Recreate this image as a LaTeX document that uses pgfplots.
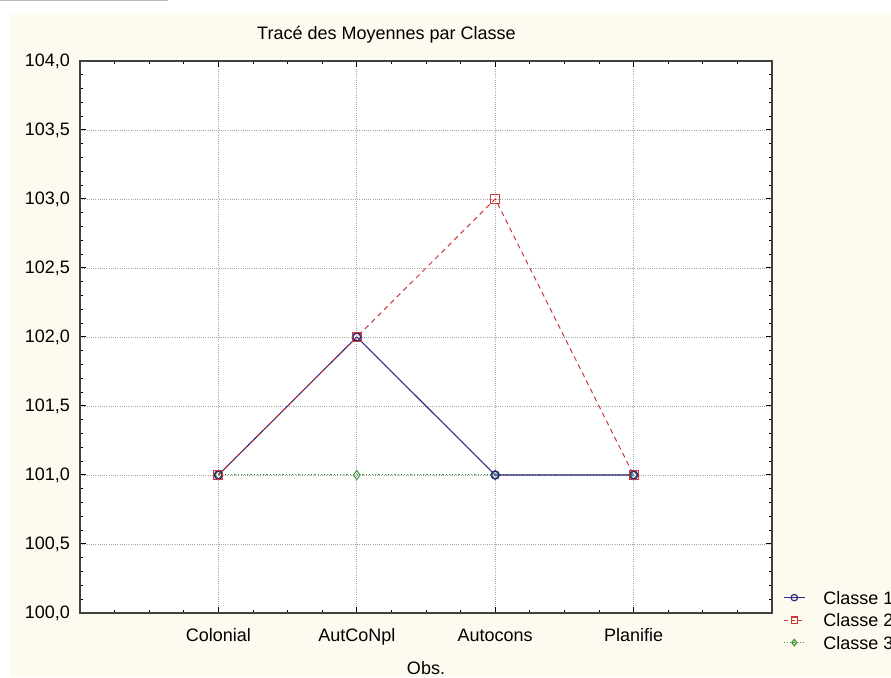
\documentclass[border=0pt]{standalone}
\usepackage{fontspec}
\setmainfont{Liberation Sans}
\usepackage{pgfplots}
\pgfplotsset{compat=1.18}

\definecolor{creme}{RGB}{253,250,240}
\definecolor{c1}{RGB}{45,45,125}
\definecolor{c2}{RGB}{205,55,55}
\definecolor{c3}{RGB}{60,150,60}
\definecolor{grille}{RGB}{165,165,165}

\begin{document}
\fontsize{18}{21}\selectfont
\begin{tikzpicture}[x=1pt,y=1pt]
% fond de la fenetre
\path[use as bounding box] (0,0) rectangle (891,677);
\fill[white] (0,0) rectangle (891,677);
\fill[creme] (10,0) rectangle (891,664);
\draw[gray!55, line width=1.5pt] (0,676.3) -- (168,676.3);
\node[anchor=west, inner sep=0pt] at (257,642) {Tracé des Moyennes par Classe};

\begin{axis}[
    at={(80pt,64pt)}, anchor=south west,
    scale only axis, width=692pt, height=552pt,
    axis background/.style={fill=white},
    xmin=0, xmax=5, ymin=100, ymax=104,
    xtick={1,2,3,4},
    xticklabels={Colonial,AutCoNpl,Autocons,Planifie},
    minor xtick={0.25,0.5,0.75,1.25,1.5,1.75,2.25,2.5,2.75,3.25,3.5,3.75,4.25,4.5,4.75},
    ytick={100,100.5,...,104},
    minor y tick num=4,
    tick align=inside,
    major tick length=6pt, minor tick length=3pt,
    every tick/.style={black, line width=1pt},
    grid=major,
    major grid style={grille, line width=0.8pt, dash pattern=on 1pt off 1.2pt},
    axis line style={black!75, line width=1.3pt},
    y tick label style={inner sep=0pt, anchor=east, xshift=-10pt,
        /pgf/number format/.cd, fixed, fixed zerofill, precision=1, use comma, assume math mode=true},
    x tick label style={inner sep=0pt, anchor=base, yshift=-28.5pt},
    xlabel={Obs.},
    xlabel style={at={(axis description cs:0.5,0)}, anchor=base, inner sep=0pt, yshift=-61.5pt},
    legend image code/.code={
        \draw[mark repeat=2, mark phase=2, #1, mark size=3.2pt]
            plot coordinates {(0pt,0pt) (10.5pt,0pt) (21pt,0pt)};
    },
    legend style={
        at={(axis description cs:1.0159,0.040)}, anchor=north west,
        draw=none, fill=none, inner sep=0pt,
        nodes={inner sep=0pt, text height=13pt, text depth=0pt, anchor=west},
        row sep=9.5pt, column sep=18pt,
    },
    legend cell align=left,
]

% entrees de legende dans l'ordre Classe 1, 2, 3
\addlegendimage{c1, solid, line width=1.2pt, mark=o, mark options={solid, fill=white}}
\addlegendimage{c2, line width=1.2pt, dash pattern=on 4pt off 3pt, mark=square, mark options={solid, fill=white}}
\addlegendimage{c3, line width=1.2pt, dash pattern=on 1.2pt off 2pt, mark=diamond, mark options={solid, fill=white}}

% Classe 3
\addplot[forget plot, c3, line width=1pt, dash pattern=on 1.2pt off 2pt,
    mark=diamond, mark size=4.5pt, mark options={solid, fill=white}] coordinates {
    (1,101) (2,101) (3,101) (4,101)
};
% Classe 1
\addplot[forget plot, c1, line width=1.1pt,
    mark=o, mark size=4pt, mark options={solid, fill=white, line width=1.5pt}] coordinates {
    (1,101) (2,102) (3,101) (4,101)
};
% Classe 2
\addplot[forget plot, c2, line width=1pt, dash pattern=on 5pt off 4pt,
    mark=square, mark size=4.5pt, mark options={solid, fill=white}] coordinates {
    (1,101) (2,102) (3,103) (4,101)
};

\legend{Classe 1, Classe 2, Classe 3}
\end{axis}
\end{tikzpicture}
\end{document}
